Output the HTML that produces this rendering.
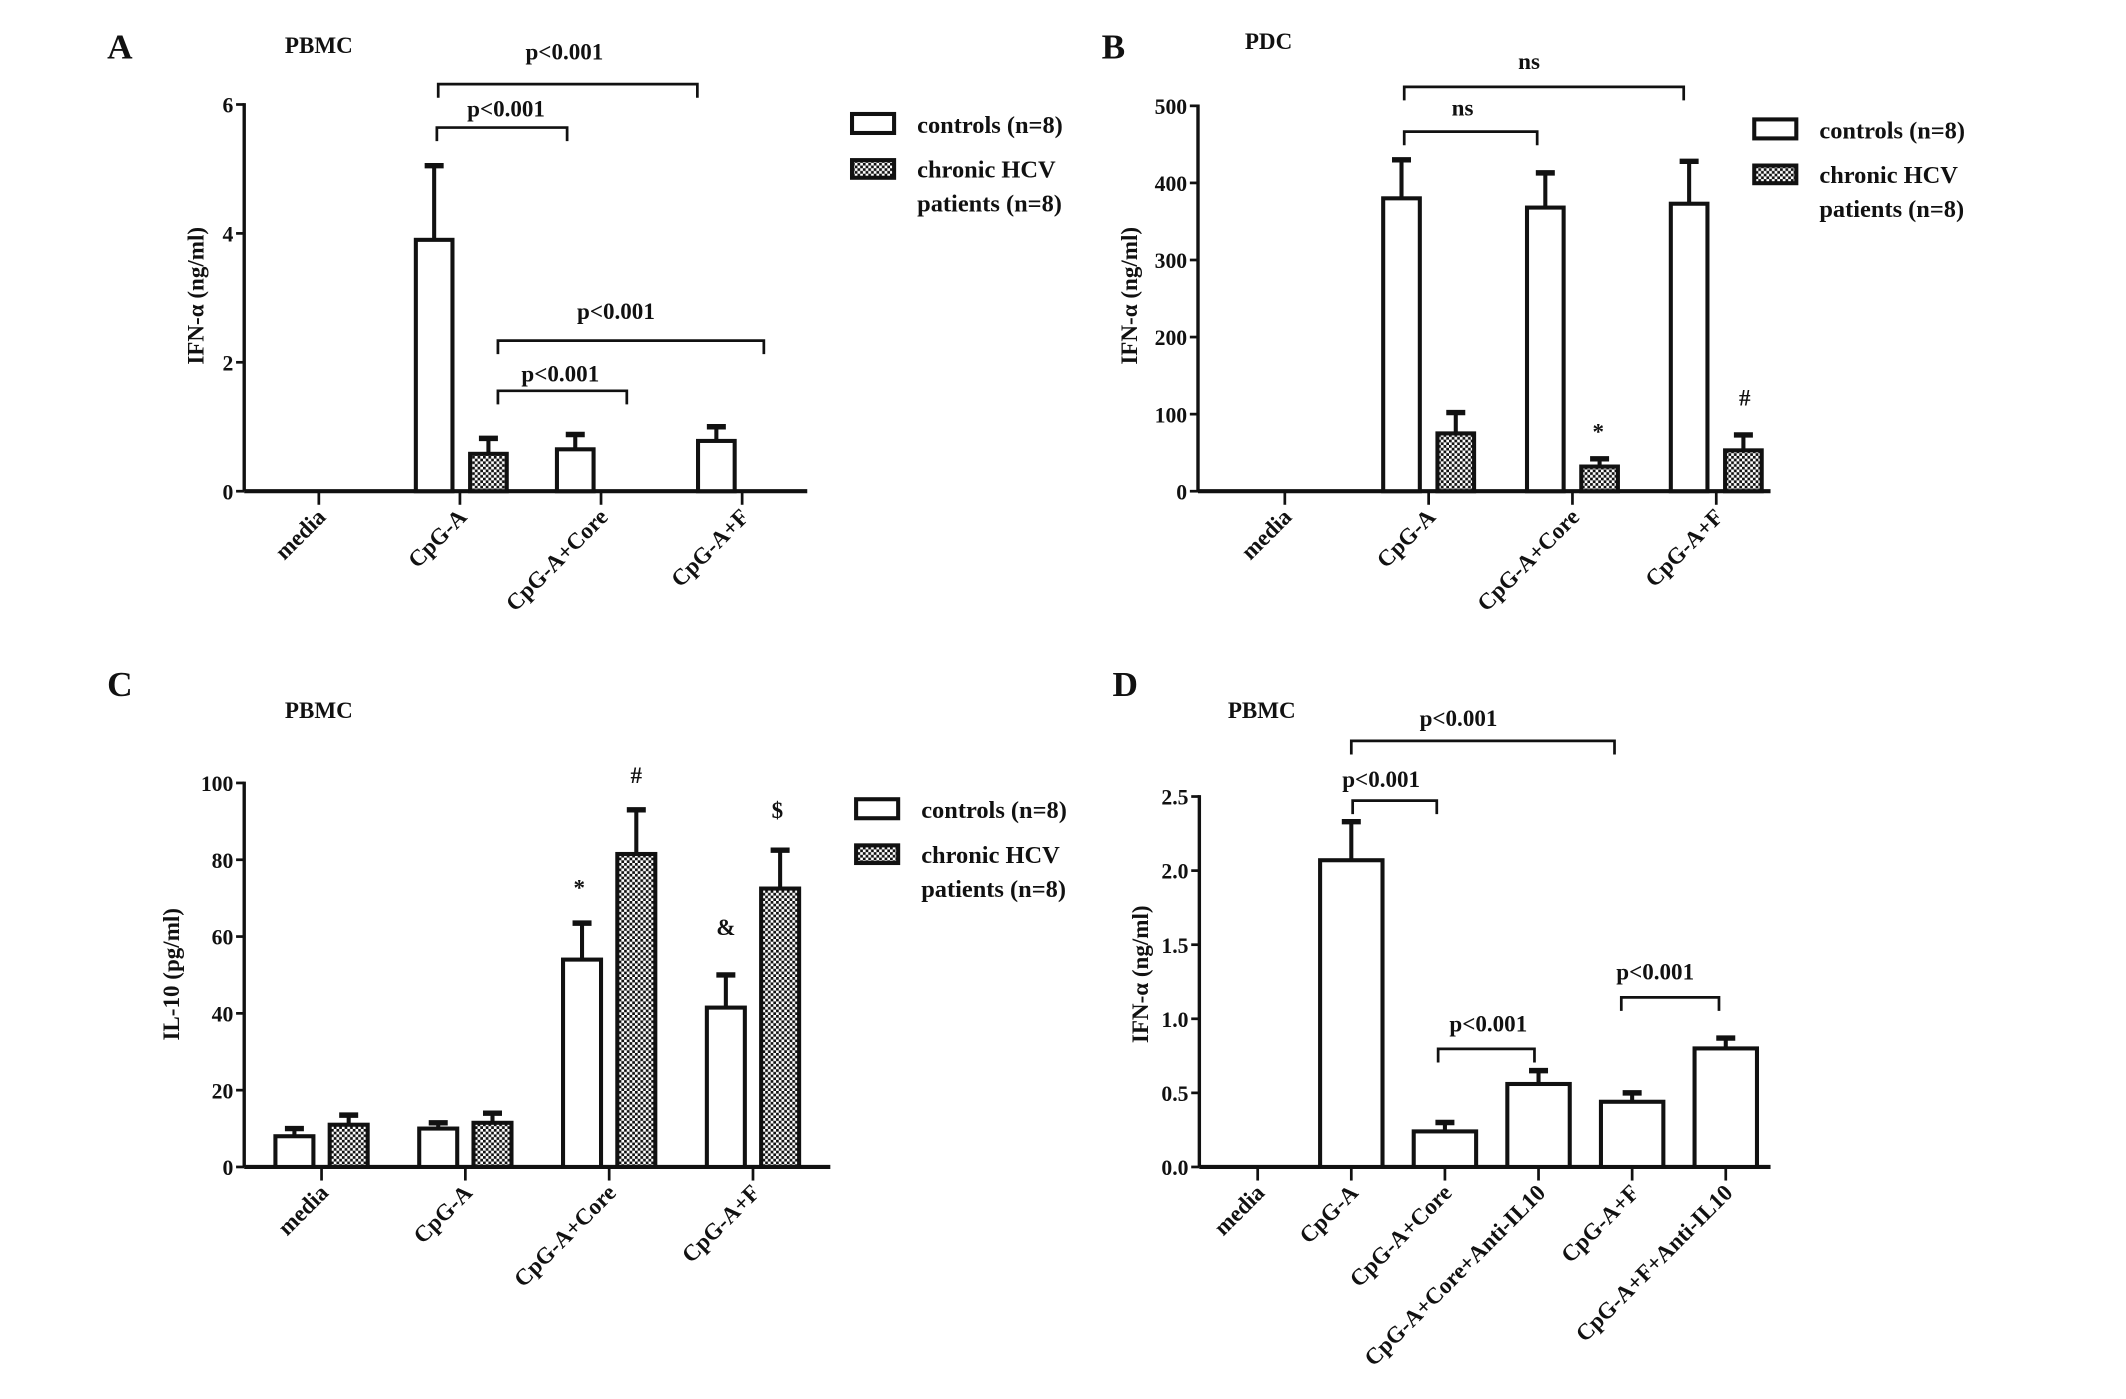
<!DOCTYPE html>
<html><head><meta charset="utf-8"><style>
html,body{margin:0;padding:0;background:#fff}
svg{display:block}
text{font-family:"Liberation Serif",serif;font-weight:bold;fill:#111}
</style></head><body>
<svg id="fig" xmlns="http://www.w3.org/2000/svg" width="2126" height="1399" viewBox="0 0 1567 1031" preserveAspectRatio="none">
<defs>
<pattern id="chk" width="4" height="4" patternUnits="userSpaceOnUse">
<rect width="4" height="4" fill="#fff"/><rect width="2" height="2" fill="#111"/><rect x="2" y="2" width="2" height="2" fill="#111"/>
</pattern>
</defs>
</svg>
<script>
// ---- data ----
const catsABC = ["media","CpG-A","CpG-A+Core","CpG-A+F"];
const catsD = ["media","CpG-A","CpG-A+Core","CpG-A+Core+Anti-IL10","CpG-A+F","CpG-A+F+Anti-IL10"];
const aCtrl = [0, 3.9, 0.65, 0.78];
const aCtrlErr = [0, 1.15, 0.23, 0.22];
const aPat = [0, 0.58, null, null];
const aPatErr = [0, 0.24, 0, 0];
const aTicks = [0, 2, 4, 6];
const bCtrl = [0, 380, 368, 373];
const bCtrlErr = [0, 50, 45, 55];
const bPat = [0, 75, 32, 53];
const bPatErr = [0, 27, 10, 20];
const bTicks = [0, 100, 200, 300, 400, 500];
const cCtrl = [8, 10, 54, 41.5];
const cCtrlErr = [2, 1.5, 9.5, 8.5];
const cPat = [11, 11.5, 81.5, 72.5];
const cPatErr = [2.5, 2.5, 11.5, 10];
const cTicks = [0, 20, 40, 60, 80, 100];
const dVals = [0, 2.07, 0.24, 0.56, 0.44, 0.80];
const dErr = [0, 0.26, 0.06, 0.09, 0.06, 0.07];
const dTicks = ["0.0","0.5","1.0","1.5","2.0","2.5"];

const svg = document.getElementById('fig');
const NS = 'http://www.w3.org/2000/svg';
function mk(tag, attrs, parent){
  const e = document.createElementNS(NS, tag);
  for (const k in attrs) e.setAttribute(k, attrs[k]);
  (parent||svg).appendChild(e); return e;
}
function txt(s, x, y, size, parent, anchor){
  const t = mk('text', {x:x, y:y, 'font-size':size, 'text-anchor':anchor||'middle'}, parent);
  t.textContent = s; return t;
}

function panel(cfg){
  const g = mk('g', {});
  
  
  const yS = v => cfg.y0 - (v - cfg.vmin) / (cfg.vmax - cfg.vmin) * (cfg.y0 - cfg.yTop);
  const xS = i => cfg.x0c + i * cfg.step;
  const ax = mk('line', {x1:cfg.ax, y1:yS(cfg.vmax)-1, x2:cfg.ax, y2:cfg.y0, stroke:'#111','stroke-width':2.5}, g);
  
  
  cfg.ticks.forEach(t => {
    const v = parseFloat(t);
    mk('line', {x1:cfg.ax-6, y1:yS(v), x2:cfg.ax, y2:yS(v), stroke:'#111','stroke-width':2}, g);
    const tl = txt(String(t), cfg.ax-8, yS(v)+6, 16, g, 'end');
    
    
  });
  const xa = mk('line', {x1:cfg.ax, y1:cfg.y0, x2:cfg.axEnd, y2:cfg.y0, stroke:'#111','stroke-width':3}, g);
  
  
  cfg.cats.forEach((c, i) => {
    mk('line', {x1:xS(i), y1:cfg.y0, x2:xS(i), y2:cfg.y0+10, stroke:'#111','stroke-width':2}, g);
    const lx = xS(i) + 6, ly = cfg.y0 + 20;
    const t = txt(c, lx, ly, 17, g, 'end');
    t.setAttribute('transform', `rotate(-45 ${lx} ${ly})`);
    
    
  });
  cfg.series.forEach(s => {
    s.vals.forEach((v, i) => {
      if (v === null || v === 0) return;
      const cx = xS(i) + s.off;
      const top = yS(v);
      const eTop = yS(v + s.err[i]);
      const el = mk('line', {x1:cx, y1:top, x2:cx, y2:eTop, stroke:'#111','stroke-width':3}, g);
      
      
      mk('line', {x1:cx-7, y1:eTop, x2:cx+7, y2:eTop, stroke:'#111','stroke-width':4}, g);
      const r = mk('rect', {x:cx-cfg.bw/2, y:top, width:cfg.bw, height:cfg.y0-top, fill:s.fill, stroke:'#111','stroke-width':3}, g);
      
      
    });
  });
  (cfg.brackets||[]).forEach(b => {
    const bg = mk('g', {}, g);
    
    
    mk('path', {d:`M${b.x1},${b.y+10} V${b.y} H${b.x2} V${b.y+10}`, fill:'none', stroke:'#111','stroke-width':2}, bg);
    txt(b.label, b.lx, b.ly, 17, bg);
  });
  (cfg.marks||[]).forEach(m => {
    const t = txt(m.s, m.x, m.y, 17, g);
    
    
  });
  const L = txt(cfg.letter, cfg.lp[0], cfg.lp[1], 26, g, 'start');
  
  
  const T = txt(cfg.title, cfg.tp[0], cfg.tp[1], 17, g);
  
  
  const Y = txt(cfg.ytitle, 0, 0, 17, g);
  Y.setAttribute('transform', `translate(${cfg.yt[0]},${cfg.yt[1]}) rotate(-90)`);
  
  
  if (cfg.legend){
    const [lx, ly] = cfg.legend;
    const lg = mk('g', {}, g);
    
    
    const e1 = mk('rect', {x:lx, y:ly, width:31, height:14, fill:'#fff', stroke:'#111','stroke-width':3}, lg);
    
    
    txt('controls (n=8)', lx+48, ly+14, 18, lg, 'start');
    const e2 = mk('rect', {x:lx, y:ly+34, width:31, height:13, fill:'url(#chk)', stroke:'#111','stroke-width':3}, lg);
    
    
    txt('chronic HCV', lx+48, ly+47, 18, lg, 'start');
    txt('patients (n=8)', lx+48, ly+72, 18, lg, 'start');
  }
}

panel({name:'panel-a', letter:'A', lp:[79,43], title:'PBMC', tp:[235,39], ytitle:'IFN-α (ng/ml)', yt:[150,218],
  ax:180, axEnd:595, y0:362, yTop:77, vmin:0, vmax:6, ticks:aTicks, cats:catsABC, x0c:235, step:104, bw:27,
  series:[{key:'controls', vals:aCtrl, err:aCtrlErr, off:-19, fill:'#fff'},{key:'patients', vals:aPat, err:aPatErr, off:21, fill:'url(#chk)'}],
  brackets:[{x1:323,x2:514,y:62,label:'p<0.001',lx:416,ly:44},{x1:322,x2:418,y:94,label:'p<0.001',lx:373,ly:86},
            {x1:367,x2:563,y:251,label:'p<0.001',lx:454,ly:235},{x1:367,x2:462,y:288,label:'p<0.001',lx:413,ly:281}],
  legend:[628,84]});

panel({name:'panel-b', letter:'B', lp:[812,43], title:'PDC', tp:[935,36], ytitle:'IFN-α (ng/ml)', yt:[838,218],
  ax:883, axEnd:1305, y0:362, yTop:78, vmin:0, vmax:500, ticks:bTicks, cats:catsABC, x0c:947, step:106, bw:27,
  series:[{key:'controls', vals:bCtrl, err:bCtrlErr, off:-20, fill:'#fff'},{key:'patients', vals:bPat, err:bPatErr, off:20, fill:'url(#chk)'}],
  brackets:[{x1:1035,x2:1241,y:64,label:'ns',lx:1127,ly:51},{x1:1035,x2:1133,y:97,label:'ns',lx:1078,ly:85}],
  marks:[{s:'*',x:1178,y:324},{s:'#',x:1286,y:299}],
  legend:[1293,88]});

panel({name:'panel-c', letter:'C', lp:[79,513], title:'PBMC', tp:[235,529], ytitle:'IL-10 (pg/ml)', yt:[132,718],
  ax:180, axEnd:612, y0:860, yTop:577, vmin:0, vmax:100, ticks:cTicks, cats:catsABC, x0c:237, step:106, bw:28,
  series:[{key:'controls', vals:cCtrl, err:cCtrlErr, off:-20, fill:'#fff'},{key:'patients', vals:cPat, err:cPatErr, off:20, fill:'url(#chk)'}],
  marks:[{s:'*',x:427,y:660},{s:'#',x:469,y:577},{s:'&',x:535,y:689},{s:'$',x:573,y:603}],
  legend:[631,589]});

panel({name:'panel-d', letter:'D', lp:[820,513], title:'PBMC', tp:[930,529], ytitle:'IFN-α (ng/ml)', yt:[846,718],
  ax:884, axEnd:1305, y0:860, yTop:587, vmin:0, vmax:2.5, ticks:dTicks, cats:catsD, x0c:927, step:69, bw:46,
  series:[{key:'treatment', vals:dVals, err:dErr, off:0, fill:'#fff'}],
  brackets:[{x1:996,x2:1190,y:546,label:'p<0.001',lx:1075,ly:535},{x1:997,x2:1059,y:590,label:'p<0.001',lx:1018,ly:580},
            {x1:1060,x2:1131,y:773,label:'p<0.001',lx:1097,ly:760},{x1:1195,x2:1267,y:735,label:'p<0.001',lx:1220,ly:722}]});
</script>
</body></html>
